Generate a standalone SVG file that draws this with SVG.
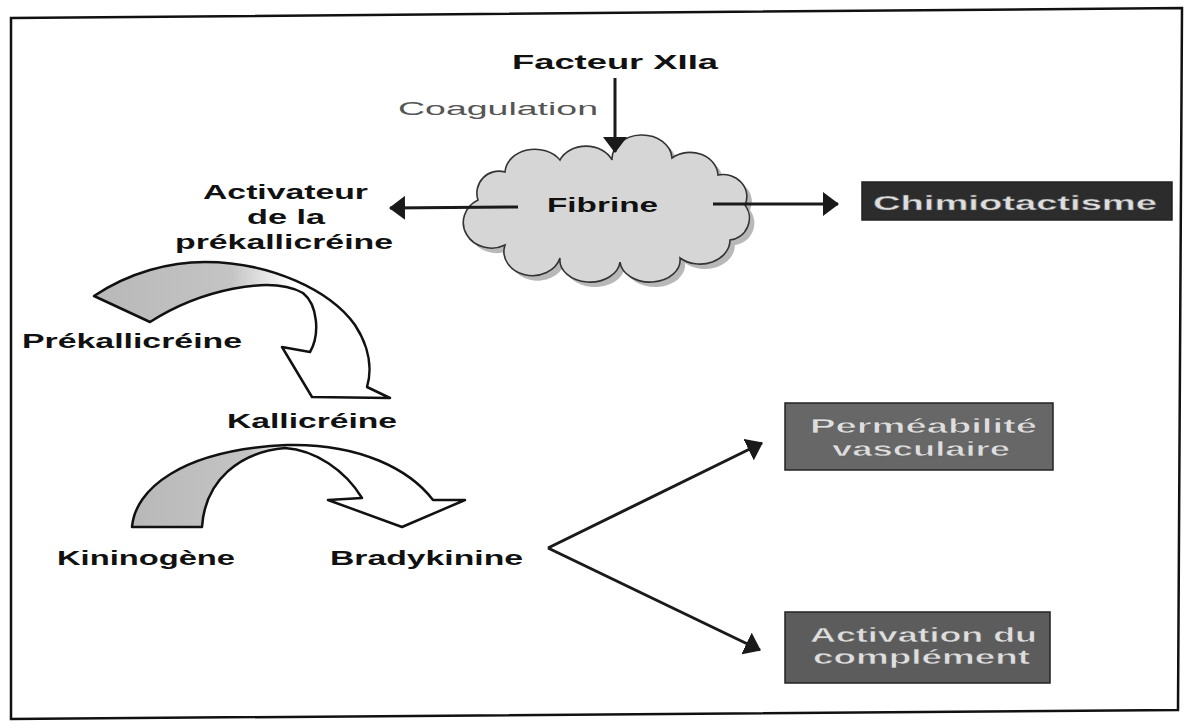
<svg xmlns="http://www.w3.org/2000/svg" width="1189" height="722" viewBox="0 0 1189 722">
<style>
.t{font-family:"Liberation Sans",Arial,sans-serif;font-weight:bold;font-size:21px;fill:#111}
.c{font-family:"Liberation Sans",Arial,sans-serif;font-size:18px;fill:#555}
.bt{font-family:"Liberation Sans",Arial,sans-serif;font-weight:bold;font-size:21px;fill:#dedede;stroke:#555;stroke-width:0.4}
.ln{stroke:#1a1a1a;stroke-width:3;fill:none}
.box{stroke:#222;stroke-width:1.5}
.carrow{stroke:#111;stroke-width:2.5;stroke-linejoin:round}
</style>
<defs>
<marker id="ah" viewBox="0 0 16 24" refX="15" refY="12" markerWidth="16" markerHeight="24" markerUnits="userSpaceOnUse" orient="auto">
<path d="M0,0 L16,12 L0,24 Z" fill="#1a1a1a"/>
</marker>
<linearGradient id="g1" gradientUnits="userSpaceOnUse" x1="94" y1="0" x2="400" y2="0">
<stop offset="0" stop-color="#b8b8b8"/><stop offset="0.45" stop-color="#c4c4c4"/><stop offset="0.65" stop-color="#fff"/><stop offset="1" stop-color="#fff"/>
</linearGradient>
<linearGradient id="g2" gradientUnits="userSpaceOnUse" x1="132" y1="0" x2="465" y2="0">
<stop offset="0" stop-color="#b8b8b8"/><stop offset="0.35" stop-color="#c4c4c4"/><stop offset="0.5" stop-color="#fff"/><stop offset="1" stop-color="#fff"/>
</linearGradient>
</defs>
<rect width="1189" height="722" fill="#fff"/>
<polygon points="11,18 1182,8 1178,710 11,719" fill="none" stroke="#111" stroke-width="2.5"/>

<g id="facteur"><text class="t" x="512" y="69" font-size="19" textLength="206" lengthAdjust="spacingAndGlyphs">Facteur XIIa</text></g>
<g id="coagulation"><text class="c" x="398" y="115" textLength="200" lengthAdjust="spacingAndGlyphs">Coagulation</text></g>

<g id="fibrine">
<path d="M483,205 A22,22 0 0 1 510,177 A30,24 0 0 1 565,165 A28,22 0 0 1 617,165 A30,24 0 0 1 677,163 A28,24 0 0 1 723,180 A24,22 0 0 1 750,210 A22,22 0 0 1 735,245 A30,24 0 0 1 685,263 A30,22 0 0 1 625,267 A30,22 0 0 1 565,263 A26,22 0 0 1 510,250 A22,20 0 0 1 483,205 Z" fill="#9a9a9a" opacity="0.7"/>
<path d="M478,200 A22,22 0 0 1 505,172 A30,24 0 0 1 560,160 A28,22 0 0 1 612,160 A30,24 0 0 1 672,158 A28,24 0 0 1 718,175 A24,22 0 0 1 745,205 A22,22 0 0 1 730,240 A30,24 0 0 1 680,258 A30,22 0 0 1 620,262 A30,22 0 0 1 560,258 A26,22 0 0 1 505,245 A22,20 0 0 1 478,200 Z" fill="#d6d6d6" stroke="#333" stroke-width="1.6"/>
<text class="t" x="547" y="212" font-size="22" textLength="111" lengthAdjust="spacingAndGlyphs">Fibrine</text>
</g>

<g id="activateur">
<text class="t" x="203" y="199" textLength="165" lengthAdjust="spacingAndGlyphs">Activateur</text>
<text class="t" x="247" y="224" textLength="78" lengthAdjust="spacingAndGlyphs">de la</text>
<text class="t" x="175" y="249" textLength="218" lengthAdjust="spacingAndGlyphs">prékallicréine</text>
</g>

<g id="prekallicreine"><text class="t" x="22" y="348" textLength="220" lengthAdjust="spacingAndGlyphs">Prékallicréine</text></g>
<g id="kallicreine"><text class="t" x="227" y="428" textLength="170" lengthAdjust="spacingAndGlyphs">Kallicréine</text></g>
<g id="kininogene"><text class="t" x="57" y="565" textLength="178" lengthAdjust="spacingAndGlyphs">Kininogène</text></g>
<g id="bradykinine"><text class="t" x="330" y="565" textLength="193" lengthAdjust="spacingAndGlyphs">Bradykinine</text></g>

<g id="chimiotactisme">
<rect class="box" x="862" y="182" width="310" height="38" fill="#2c2c2c"/>
<text class="bt" x="873" y="210" font-size="20" textLength="284" lengthAdjust="spacingAndGlyphs">Chimiotactisme</text>
</g>

<g id="permeabilite">
<rect class="box" x="785" y="403" width="268" height="67" fill="#676767"/>
<text class="bt" x="810" y="433" textLength="227" lengthAdjust="spacingAndGlyphs">Perméabilité</text>
<text class="bt" x="832" y="456" textLength="178" lengthAdjust="spacingAndGlyphs">vasculaire</text>
</g>

<g id="complement">
<rect class="box" x="785" y="612" width="265" height="71" fill="#5c5c5c"/>
<text class="bt" x="810" y="642" textLength="227" lengthAdjust="spacingAndGlyphs">Activation du</text>
<text class="bt" x="813" y="664" textLength="217" lengthAdjust="spacingAndGlyphs">complément</text>
</g>

<g id="connectors">
<line class="ln" x1="615" y1="78" x2="615" y2="152" marker-end="url(#ah)"/>
<line class="ln" x1="518" y1="207" x2="390" y2="208" marker-end="url(#ah)"/>
<line class="ln" x1="713" y1="204" x2="838" y2="204" marker-end="url(#ah)" stroke-width="2"/>
<line class="ln" x1="548" y1="548" x2="762" y2="443" marker-end="url(#ah)"/>
<line class="ln" x1="548" y1="548" x2="760" y2="650" marker-end="url(#ah)"/>
<path id="curved1" class="carrow" fill="url(#g1)" d="M94,296 C130,272 170,262 205,262 C270,262 330,290 355,325 C370,348 372,370 367,387 L390,398 L312,397 L282,347 L310,352 C320,335 318,305 303,293 C270,275 200,290 150,322 Z"/>
<path id="curved2" class="carrow" fill="url(#g2)" d="M132,527 C135,490 180,450 287,445 C360,443 410,470 433,500 L465,500 L402,527 L328,500 L362,498 C345,470 315,450 285,448 C240,452 205,480 202,527 Z"/>
</g>
</svg>
